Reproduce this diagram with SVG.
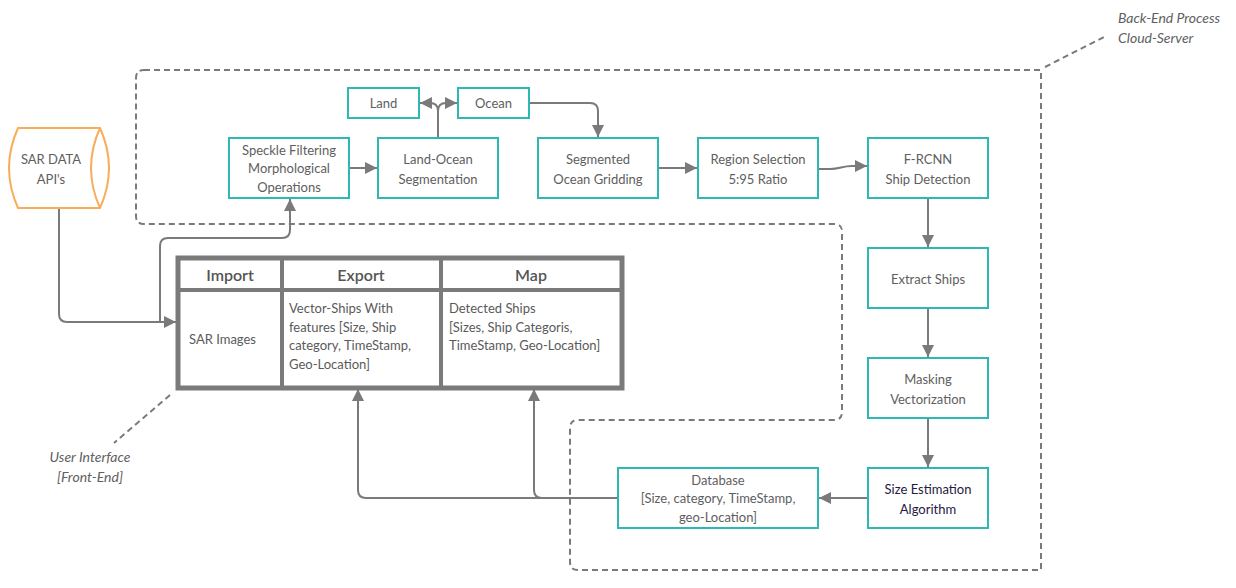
<svg xmlns="http://www.w3.org/2000/svg" width="1236" height="588" viewBox="0 0 1236 588">
<defs>
<marker id="ah" markerUnits="userSpaceOnUse" markerWidth="12" markerHeight="12" viewBox="0 0 10 10" refX="10" refY="5" orient="auto">
<path d="M0,0 L10,5 L0,10 z" fill="#7a7a7a"/>
</marker>
</defs>
<style>
.box{fill:#fff;stroke:#2fb8b3;stroke-width:2}
.t{font-family:Lato,"Noto Sans","Liberation Sans",sans-serif;font-size:13px;fill:#5e5e5e;text-anchor:middle}
.tl{font-family:Lato,"Noto Sans","Liberation Sans",sans-serif;font-size:13px;fill:#5a5a5a}
.th{font-family:Lato,"Noto Sans","Liberation Sans",sans-serif;font-size:16px;fill:#555;text-anchor:middle;font-weight:600}
.it{font-family:Lato,"Noto Sans","Liberation Sans",sans-serif;font-size:14px;fill:#606060;font-style:italic}
.dash{fill:none;stroke:#7a7a7a;stroke-width:2;stroke-dasharray:6 4}
.c{fill:none;stroke:#7a7a7a;stroke-width:2}
.tb{fill:none;stroke:#7a7a7a;stroke-width:4}
</style>
<rect width="1236" height="588" fill="#fff"/>

<g id="boundaries">
<path class="dash" d="M144,70 H1041 V570 H578 Q570,570 570,562 V428 Q570,420 578,420 H834 Q842,420 842,412 V231 Q842,224 834,224 H144 Q136,224 136,216 V78 Q136,70 144,70 Z"/>
<path class="dash" d="M1045,67 L1106,36"/>
<path class="dash" d="M170,395 L114,443"/>
</g>

<g id="connectors">
<path class="c" d="M59,208 V314 Q59,322 67,322 H176" marker-end="url(#ah)"/>
<path class="c" d="M160,322 V246 Q160,238 168,238 H282 Q290,238 290,230 V199" marker-end="url(#ah)"/>
<path class="c" d="M349,168 H377" marker-end="url(#ah)"/>
<path class="c" d="M438,138 V111 Q438,103 430,103 H420" marker-end="url(#ah)"/>
<path class="c" d="M438,111 Q438,103 446,103 H457" marker-end="url(#ah)"/>
<path class="c" d="M529,103 H590 Q598,103 598,111 V137" marker-end="url(#ah)"/>
<path class="c" d="M658,168 H697" marker-end="url(#ah)"/>
<path class="c" d="M818,169 H830 C840,169 842,166 852,166 H867" marker-end="url(#ah)"/>
<path class="c" d="M928,198 V247" marker-end="url(#ah)"/>
<path class="c" d="M928,308 V357" marker-end="url(#ah)"/>
<path class="c" d="M928,418 V467" marker-end="url(#ah)"/>
<path class="c" d="M868,498 H819" marker-end="url(#ah)"/>
<path class="c" d="M618,498 H366 Q358,498 358,490 V389" marker-end="url(#ah)"/>
<path class="c" d="M542,498 Q534,498 534,490 V389" marker-end="url(#ah)"/>
</g>

<g id="sar-data">
<path d="M18,128 H100 Q118,168 100,208 H18 Q0,168 18,128 Z" fill="#fff" stroke="#f7ad5a" stroke-width="2"/>
<path d="M100,128 Q82,168 100,208" fill="none" stroke="#f7ad5a" stroke-width="2"/>
<text class="t" x="51" y="164">SAR DATA</text>
<text class="t" x="51" y="184">API's</text>
</g>

<g id="speckle">
<rect class="box" x="229" y="138" width="120" height="60"/>
<text class="t" x="289" y="155">Speckle Filtering</text>
<text class="t" x="289" y="173">Morphological</text>
<text class="t" x="289" y="192">Operations</text>
</g>

<g id="land-ocean">
<rect class="box" x="378" y="138" width="120" height="60"/>
<text class="t" x="438" y="164">Land-Ocean</text>
<text class="t" x="438" y="184">Segmentation</text>
</g>

<g id="land">
<rect class="box" x="348" y="88" width="71" height="30"/>
<text class="t" x="383.5" y="108">Land</text>
</g>

<g id="ocean">
<rect class="box" x="458" y="88" width="71" height="30"/>
<text class="t" x="493.5" y="108">Ocean</text>
</g>

<g id="gridding">
<rect class="box" x="538" y="138" width="120" height="60"/>
<text class="t" x="598" y="164">Segmented</text>
<text class="t" x="598" y="184">Ocean Gridding</text>
</g>

<g id="region">
<rect class="box" x="698" y="138" width="120" height="60"/>
<text class="t" x="758" y="164">Region Selection</text>
<text class="t" x="758" y="184">5:95 Ratio</text>
</g>

<g id="frcnn">
<rect class="box" x="868" y="138" width="120" height="60"/>
<text class="t" x="928" y="164">F-RCNN</text>
<text class="t" x="928" y="184">Ship Detection</text>
</g>

<g id="extract">
<rect class="box" x="868" y="248" width="120" height="60"/>
<text class="t" x="928" y="284">Extract Ships</text>
</g>

<g id="masking">
<rect class="box" x="868" y="358" width="120" height="60"/>
<text class="t" x="928" y="384">Masking</text>
<text class="t" x="928" y="404">Vectorization</text>
</g>

<g id="size">
<rect class="box" x="868" y="468" width="120" height="60"/>
<text class="t" x="928" y="494" style="fill:#1f2040">Size Estimation</text>
<text class="t" x="928" y="514" style="fill:#1f2040">Algorithm</text>
</g>

<g id="database">
<rect class="box" x="618" y="468" width="200" height="60"/>
<text class="t" x="718" y="485">Database</text>
<text class="t" x="718" y="503">[Size, category, TimeStamp,</text>
<text class="t" x="718" y="522">geo-Location]</text>
</g>

<g id="ui-table">
<rect x="178" y="258" width="444" height="130" fill="#fff" stroke="#7a7a7a" stroke-width="5"/>
<line class="tb" x1="178" y1="290" x2="622" y2="290"/>
<line class="tb" x1="282" y1="258" x2="282" y2="388"/>
<line class="tb" x1="441" y1="258" x2="441" y2="388"/>
<text class="th" x="230" y="281">Import</text>
<text class="th" x="361" y="281">Export</text>
<text class="th" x="531" y="281">Map</text>
<text class="tl" x="189" y="344">SAR Images</text>
<text class="tl" x="289" y="313">Vector-Ships With</text>
<text class="tl" x="289" y="332">features [Size, Ship</text>
<text class="tl" x="289" y="350">category, TimeStamp,</text>
<text class="tl" x="289" y="369">Geo-Location]</text>
<text class="tl" x="449" y="313">Detected Ships</text>
<text class="tl" x="449" y="332">[Sizes, Ship Categoris,</text>
<text class="tl" x="449" y="350">TimeStamp, Geo-Location]</text>
</g>

<g id="labels">
<text class="it" x="1118" y="23">Back-End Process</text>
<text class="it" x="1118" y="43">Cloud-Server</text>
<text class="it" x="90" y="462" text-anchor="middle">User Interface</text>
<text class="it" x="90" y="482" text-anchor="middle">[Front-End]</text>
</g>
</svg>
